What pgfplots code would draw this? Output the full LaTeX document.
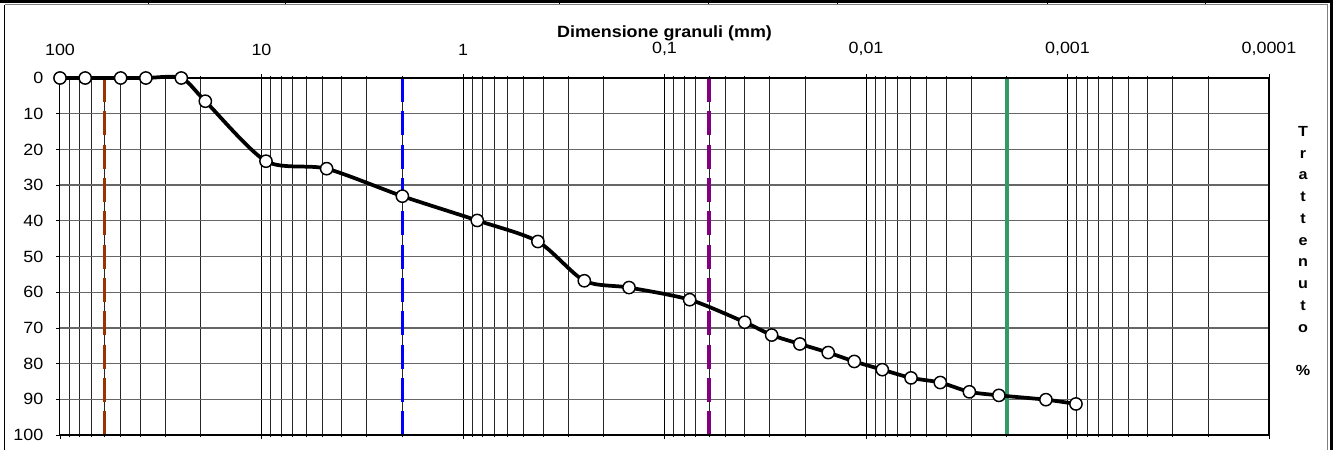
\documentclass[border=0pt]{standalone}
\usepackage{fontspec}
\setmainfont{Liberation Sans}[FakeStretch=1.1]
\usepackage{pgfplots}
\pgfplotsset{compat=1.18}
\definecolor{limgh}{RGB}{153,51,0}
\definecolor{lsab}{RGB}{0,0,255}
\definecolor{llim}{RGB}{128,0,128}
\definecolor{larg}{RGB}{51,153,102}

\begin{document}
\begin{tikzpicture}
\begin{scope}[x=0.75pt,y=0.75pt]
\useasboundingbox (0,0) rectangle (1333,450);
% cornice esterna
\draw[line width=2.25pt] (0,448.5) -- (1333,448.5);
\foreach \xx in {148,285,559,708,837,1047,1205} \draw[line width=0.75pt] (\xx,450) -- (\xx,446);
\draw[line width=0.9pt] (4.5,0) -- (4.5,445);
\draw[line width=0.75pt, gray] (4.5,445) -- (1327,445) -- (1327,0);
\draw[line width=2.25pt] (1331.5,0) -- (1331.5,450);
\node[font=\bfseries\fontsize{11}{16.3}\selectfont, align=center] at (1303,199)
  {T\\r\\a\\t\\t\\e\\n\\u\\t\\o\\[16.3pt]\%};
\end{scope}

\begin{axis}[
  at={(45pt,11.25pt)}, anchor=south west,
  scale only axis, width=906.75pt, height=267.75pt,
  font=\fontsize{12.2}{14}\selectfont,
  /pgf/number format/assume math mode=true,
  xmode=log, x dir=reverse, xmin=0.0001, xmax=100,
  y dir=reverse, ymin=0, ymax=100, ytick distance=10,
  xtick={100,10,1,0.1,0.01,0.001,0.0001},
  xticklabels={100,10,1,{0,1},{0,01},{0,001},{0,0001}},
  minor xtick={
    0.0002,0.0003,0.0004,0.0005,0.0006,0.0007,0.0008,0.0009,
    0.002,0.003,0.004,0.005,0.006,0.007,0.008,0.009,
    0.02,0.03,0.04,0.05,0.06,0.07,0.08,0.09,
    0.2,0.3,0.4,0.5,0.6,0.7,0.8,0.9,
    2,3,4,5,6,7,8,9,
    20,30,40,50,60,70,80,90},
  xticklabel pos=upper,
  xlabel={\textbf{Dimensione granuli (mm)}},
  xlabel style={yshift=-6pt},
  xticklabel style={yshift=10pt},
  yticklabel style={xshift=-6pt},
  ytick pos=left,
  tick align=outside,
  major tick length=3pt, minor tick length=1.5pt,
  tick style={black, line width=0.6pt},
  xmajorgrids, xminorgrids, ymajorgrids,
  major x grid style={black, line width=0.75pt},
  minor x grid style={black!85, line width=0.75pt},
  major y grid style={black!60, line width=1pt},
  axis line style={line width=0.75pt},
  clip=false,
]
% limiti granulometrici
\addplot[limgh, line width=2.6pt, dash pattern=on 18pt off 7pt] coordinates {(60,0) (60,100)};
\addplot[lsab, line width=2.6pt, dash pattern=on 18pt off 7pt] coordinates {(2,0) (2,100)};
\addplot[llim, line width=2.6pt, dash pattern=on 18pt off 7pt] coordinates {(0.06,0) (0.06,100)};
\addplot[larg, line width=2.6pt] coordinates {(0.002,0) (0.002,100)};

% curva granulometrica
\addplot[black, line width=2.8pt, smooth, tension=0.45,
  mark=*, mark size=4.6pt,
  mark options={fill=white, draw=black, line width=1.1pt, solid}] coordinates {
  (100,0) (75,0) (50,0) (37.5,0) (25,0)
  (19,6.5) (9.5,23.3) (4.75,25.4) (2,33.1)
  (0.85,39.9) (0.425,45.8) (0.25,56.8) (0.15,58.7) (0.075,62.1)
  (0.040,68.4) (0.0294,72.0) (0.0213,74.5) (0.0154,76.9) (0.01143,79.4)
  (0.0083,81.7) (0.00598,84.0) (0.00428,85.3) (0.00307,87.9) (0.00219,88.9)
  (0.00128,90.1) (0.000908,91.3)
};

% bordi spessi
\draw[line width=1.8pt] (rel axis cs:0,0) -- (rel axis cs:1,0);
\draw[line width=2pt] (rel axis cs:1,0) -- (rel axis cs:1,1) -- (rel axis cs:0,1);
\end{axis}
\end{tikzpicture}
\end{document}
